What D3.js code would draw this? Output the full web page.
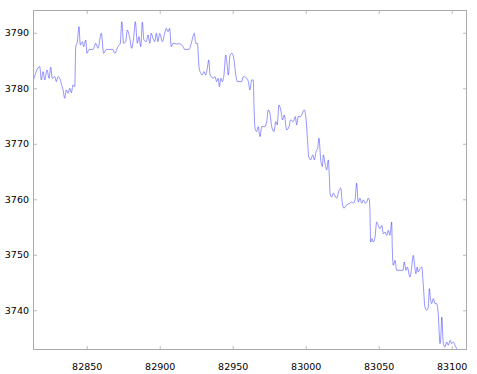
<!DOCTYPE html>
<html><head><meta charset="utf-8">
<script src="https://cdn.jsdelivr.net/npm/d3@7"></script>
<style>body{margin:0;background:#fff}svg{display:block}</style>
</head><body>
<script>
const times = [82813.2,82817.8,82818.9,82820.1,82821.2,82822.8,82824.2,82825.3,82826.4,82828.1,82829.2,82830.3,82831.5,82832.6,82833.8,82834.9,82836.0,82837.2,82838.4,82839.5,82840.6,82841.8,82842.5,82843.6,82844.7,82845.6,82847.0,82847.9,82849.3,82850.2,82851.6,82854.3,82856.2,82857.7,82860.0,82861.6,82863.4,82868.0,82869.2,82871.4,82873.0,82874.0,82875.3,82876.7,82877.8,82879.5,82880.8,82882.2,82883.3,82884.7,82885.8,82887.0,82888.1,82889.2,82890.8,82892.0,82893.2,82894.2,82895.4,82896.6,82897.7,82898.8,82900.0,82901.8,82903.4,82904.5,82905.7,82906.8,82907.9,82909.1,82911.0,82913.7,82916.0,82917.1,82920.1,82921.6,82923.7,82924.7,82925.8,82926.9,82928.1,82929.2,82930.3,82931.5,82932.6,82933.6,82934.5,82936.7,82937.9,82939.0,82940.1,82940.8,82942.0,82942.9,82944.0,82945.2,82946.3,82947.0,82948.2,82949.5,82950.9,82952.1,82953.2,82956.2,82957.3,82959.6,82960.7,82961.8,82963.0,82964.1,82964.6,82965.3,82966.4,82967.5,82968.7,82969.9,82972.1,82973.3,82974.4,82975.5,82976.7,82978.3,82979.5,82980.5,82981.7,82982.9,82984.2,82985.3,82987.0,82988.6,82989.7,82991.5,82992.9,82993.8,82994.9,82996.6,82997.7,82999.0,83000.2,83001.1,83002.1,83003.4,83004.8,83005.9,83007.1,83008.2,83009.1,83010.3,83011.4,83012.1,83013.2,83014.4,83015.5,83016.2,83016.7,83017.8,83018.9,83021.2,83023.0,83024.0,83025.1,83026.2,83028.1,83030.3,83031.5,83032.6,83033.8,83034.9,83036.0,83037.2,83038.4,83039.5,83040.7,83041.8,83042.9,83043.6,83044.0,83044.5,83045.4,83046.3,83047.5,83048.6,83049.7,83050.9,83052.1,83053.2,83054.3,83055.5,83056.6,83057.7,83058.9,83059.3,83060.0,83061.2,83062.3,83066.6,83067.5,83068.7,83069.6,83071.4,83072.6,83073.7,83074.9,83075.5,83076.4,83077.1,83078.3,83079.5,83080.5,83081.7,83082.9,83084.0,83084.7,83085.6,83086.3,83087.4,83088.6,83089.7,83090.8,83092.0,83092.7,83093.2,83094.3,83095.4,83096.6,83097.7,83098.9,83100.0,83101.1,83102.3,83103.4,83104.5,83105.7];
const prices = [3781.2,3783.9,3781.5,3783.0,3781.5,3783.3,3781.8,3783.8,3781.8,3782.1,3781.2,3782.1,3781.8,3780.8,3779.7,3778.2,3779.7,3779.1,3780.0,3779.2,3780.6,3780.3,3787.5,3788.4,3791.1,3787.8,3788.4,3787.5,3788.7,3786.3,3787.0,3787.0,3788.1,3787.2,3789.9,3786.3,3787.0,3787.0,3786.3,3787.5,3788.1,3792.0,3788.1,3788.4,3790.5,3789.0,3787.2,3789.3,3792.0,3788.1,3789.3,3787.5,3791.9,3788.7,3788.4,3789.6,3788.1,3789.9,3789.0,3788.4,3789.9,3788.4,3789.9,3788.4,3789.9,3790.8,3790.2,3790.8,3787.5,3788.1,3788.0,3788.0,3787.5,3787.0,3787.0,3788.1,3789.9,3788.1,3788.1,3783.9,3782.7,3782.4,3783.0,3782.4,3783.6,3785.1,3782.4,3781.8,3782.1,3781.2,3781.8,3780.3,3781.8,3781.2,3782.4,3786.0,3783.9,3782.4,3786.0,3786.3,3785.1,3782.4,3781.2,3781.2,3782.1,3781.8,3781.2,3779.7,3781.5,3781.5,3776.7,3772.8,3772.2,3773.1,3771.3,3773.1,3773.1,3774.0,3776.1,3775.5,3773.1,3772.2,3774.0,3773.4,3777.0,3776.1,3774.3,3775.2,3772.5,3773.1,3774.3,3774.0,3774.9,3773.4,3774.9,3774.9,3775.5,3776.1,3774.6,3771.3,3767.7,3767.1,3768.0,3767.1,3768.6,3769.2,3771.0,3767.1,3765.9,3768.0,3766.5,3765.3,3767.1,3764.1,3761.1,3760.4,3761.1,3760.2,3761.7,3762.0,3759.3,3758.4,3759.0,3759.3,3759.5,3759.3,3759.9,3762.9,3759.5,3760.2,3759.3,3759.9,3759.3,3759.5,3760.2,3759.9,3758.0,3752.3,3752.9,3752.3,3753.2,3755.9,3755.3,3754.7,3755.3,3753.8,3754.1,3753.5,3754.4,3753.5,3755.9,3751.4,3748.1,3749.0,3747.2,3747.2,3748.7,3747.2,3747.8,3746.0,3747.8,3749.9,3747.5,3746.6,3747.8,3746.9,3747.5,3747.8,3744.8,3740.6,3740.0,3740.6,3743.9,3741.8,3741.2,3742.1,3741.2,3741.2,3739.4,3734.0,3735.8,3738.8,3734.0,3733.4,3734.3,3733.7,3734.6,3734.0,3734.3,3733.7,3733.1,3732.8,3732.6];
const xTicks = [82850, 82900, 82950, 83000, 83050, 83100];
const yTicks = [3740, 3750, 3760, 3770, 3780, 3790];
const xDomain = [82813.2, 83110.5];
const yDomain = [3732.85, 3794.1];

const W = 477, H = 374;
const m = {left: 33, right: 10, top: 10, bottom: 24};
const svg = d3.select("body").append("svg").attr("width", W).attr("height", H);
const x = d3.scaleLinear().domain(xDomain).range([m.left, W - m.right]);
const y = d3.scaleLinear().domain(yDomain).range([H - m.bottom, m.top]);

svg.append("defs").append("clipPath").attr("id", "clip")
  .append("rect").attr("x", m.left).attr("y", m.top)
  .attr("width", W - m.left - m.right).attr("height", H - m.top - m.bottom);

const data = times.map((t, i) => [t, prices[i]]);
svg.append("path").datum(data)
  .attr("clip-path", "url(#clip)")
  .attr("fill", "none").attr("stroke", "#0000ff").attr("stroke-width", 0.42)
  .attr("d", d3.line().x(d => x(d[0])).y(d => y(d[1])).curve(d3.curveMonotoneX));

const font = "DejaVu Sans, sans-serif";
function styleAxis(g, labels) {
  g.select(".domain").remove();
  g.selectAll(".tick line").attr("stroke", "#bbbbbb");
  g.selectAll(".tick text").attr("font-family", font).attr("font-size", "9.5px").attr("fill", "#000");
  if (!labels) g.selectAll(".tick text").remove();
}
svg.append("g").attr("transform", `translate(0,${H - m.bottom})`)
  .call(d3.axisBottom(x).tickValues(xTicks).tickFormat(d3.format("d")).tickSizeInner(-4).tickPadding(13))
  .call(g => styleAxis(g, true));
svg.append("g").attr("transform", `translate(0,${m.top})`)
  .call(d3.axisTop(x).tickValues(xTicks).tickSizeInner(-4))
  .call(g => styleAxis(g, false));
svg.append("g").attr("transform", `translate(${m.left},0)`)
  .call(d3.axisLeft(y).tickValues(yTicks).tickFormat(d3.format("d")).tickSizeInner(-4).tickPadding(4))
  .call(g => styleAxis(g, true));
svg.append("g").attr("transform", `translate(${W - m.right},0)`)
  .call(d3.axisRight(y).tickValues(yTicks).tickSizeInner(-4))
  .call(g => styleAxis(g, false));

svg.append("rect").attr("x", m.left + 0.5).attr("y", m.top + 0.5)
  .attr("width", W - m.left - m.right - 1).attr("height", H - m.top - m.bottom - 1)
  .attr("fill", "none").attr("stroke", "#aaaaaa").attr("stroke-width", 1);
</script>
</body></html>
